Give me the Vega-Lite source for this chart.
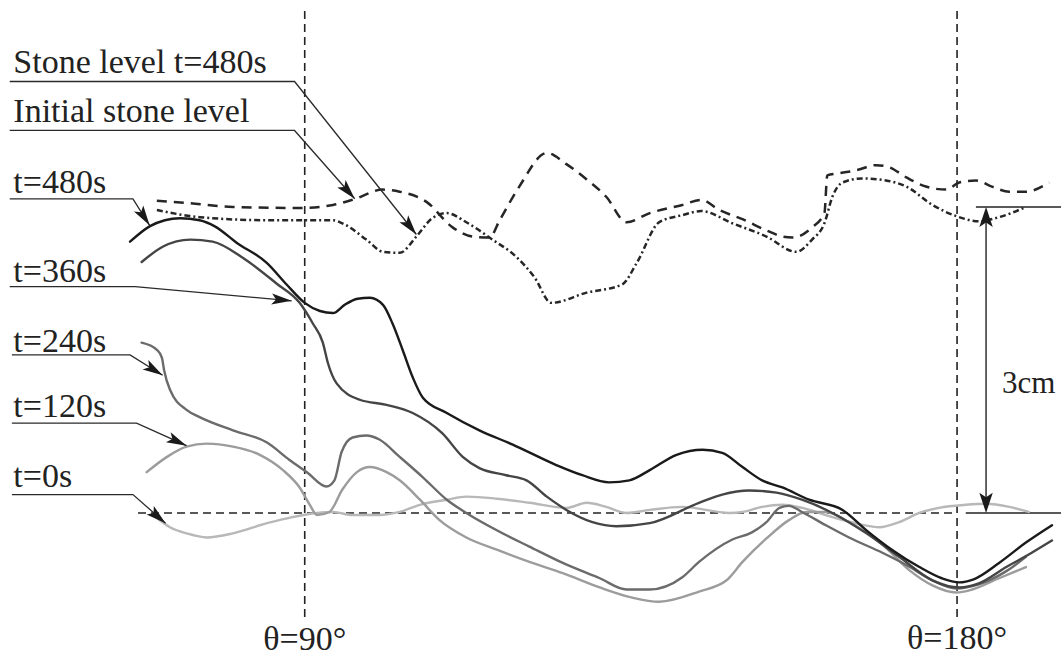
{
  "$schema": "https://vega.github.io/schema/vega-lite/v6.json",
  "width": 1062,
  "height": 657,
  "padding": 0,
  "autosize": {"type": "fit", "contains": "padding"},
  "background": "white",
  "config": {"view": {"stroke": null}},
  "datasets": {
    "profiles": [
      {"series": "t=0s", "theta": 69.6, "depth": -0.05}, {"series": "t=0s", "theta": 71.4, "depth": -0.14}, {"series": "t=0s", "theta": 73.7, "depth": -0.2}, {"series": "t=0s", "theta": 76.5, "depth": -0.24}, {"series": "t=0s", "theta": 80.1, "depth": -0.2}, {"series": "t=0s", "theta": 84.8, "depth": -0.1}, {"series": "t=0s", "theta": 88.3, "depth": -0.04}, {"series": "t=0s", "theta": 91.7, "depth": 0}, {"series": "t=0s", "theta": 93.9, "depth": 0.01}, {"series": "t=0s", "theta": 96.6, "depth": -0.02}, {"series": "t=0s", "theta": 100.3, "depth": -0.02}, {"series": "t=0s", "theta": 103.1, "depth": 0.01}, {"series": "t=0s", "theta": 105.9, "depth": 0.08}, {"series": "t=0s", "theta": 109.6, "depth": 0.13}, {"series": "t=0s", "theta": 112.3, "depth": 0.16}, {"series": "t=0s", "theta": 116.5, "depth": 0.14}, {"series": "t=0s", "theta": 121.0, "depth": 0.1}, {"series": "t=0s", "theta": 126.1, "depth": 0.05}, {"series": "t=0s", "theta": 128.9, "depth": 0.1}, {"series": "t=0s", "theta": 131.6, "depth": 0.06}, {"series": "t=0s", "theta": 134.4, "depth": 0}, {"series": "t=0s", "theta": 137.6, "depth": 0.03}, {"series": "t=0s", "theta": 142.1, "depth": 0.06}, {"series": "t=0s", "theta": 148.6, "depth": 0}, {"series": "t=0s", "theta": 150.4, "depth": 0.01}, {"series": "t=0s", "theta": 153.1, "depth": 0.06}, {"series": "t=0s", "theta": 155.9, "depth": 0.08}, {"series": "t=0s", "theta": 158.6, "depth": 0.05}, {"series": "t=0s", "theta": 162.8, "depth": -0.04}, {"series": "t=0s", "theta": 166.5, "depth": -0.11}, {"series": "t=0s", "theta": 169.3, "depth": -0.14}, {"series": "t=0s", "theta": 172.0, "depth": -0.09}, {"series": "t=0s", "theta": 174.8, "depth": 0}, {"series": "t=0s", "theta": 177.5, "depth": 0.05}, {"series": "t=0s", "theta": 181.2, "depth": 0.08}, {"series": "t=0s", "theta": 184.0, "depth": 0.09}, {"series": "t=0s", "theta": 187.2, "depth": 0.06}, {"series": "t=0s", "theta": 189.9, "depth": 0.01},

      {"series": "t=120s", "theta": 68.2, "depth": 0.4}, {"series": "t=120s", "theta": 71.0, "depth": 0.55}, {"series": "t=120s", "theta": 73.7, "depth": 0.65}, {"series": "t=120s", "theta": 76.5, "depth": 0.68}, {"series": "t=120s", "theta": 80.1, "depth": 0.65}, {"series": "t=120s", "theta": 83.8, "depth": 0.57}, {"series": "t=120s", "theta": 87.0, "depth": 0.42}, {"series": "t=120s", "theta": 89.3, "depth": 0.25}, {"series": "t=120s", "theta": 90.7, "depth": 0.08}, {"series": "t=120s", "theta": 91.7, "depth": -0.02}, {"series": "t=120s", "theta": 93.4, "depth": 0.01}, {"series": "t=120s", "theta": 95.2, "depth": 0.23}, {"series": "t=120s", "theta": 97.2, "depth": 0.4}, {"series": "t=120s", "theta": 99.0, "depth": 0.45}, {"series": "t=120s", "theta": 101.3, "depth": 0.4}, {"series": "t=120s", "theta": 103.1, "depth": 0.32}, {"series": "t=120s", "theta": 105.9, "depth": 0.13}, {"series": "t=120s", "theta": 108.6, "depth": -0.07}, {"series": "t=120s", "theta": 112.3, "depth": -0.24}, {"series": "t=120s", "theta": 116.5, "depth": -0.36}, {"series": "t=120s", "theta": 121.0, "depth": -0.48}, {"series": "t=120s", "theta": 125.6, "depth": -0.59}, {"series": "t=120s", "theta": 130.7, "depth": -0.73}, {"series": "t=120s", "theta": 135.2, "depth": -0.83}, {"series": "t=120s", "theta": 138.9, "depth": -0.87}, {"series": "t=120s", "theta": 144.4, "depth": -0.77}, {"series": "t=120s", "theta": 148.2, "depth": -0.66}, {"series": "t=120s", "theta": 150.4, "depth": -0.48}, {"series": "t=120s", "theta": 153.7, "depth": -0.25}, {"series": "t=120s", "theta": 156.8, "depth": -0.07}, {"series": "t=120s", "theta": 159.2, "depth": 0.01}, {"series": "t=120s", "theta": 161.9, "depth": 0.01}, {"series": "t=120s", "theta": 165.1, "depth": -0.09}, {"series": "t=120s", "theta": 169.7, "depth": -0.31}, {"series": "t=120s", "theta": 173.4, "depth": -0.56}, {"series": "t=120s", "theta": 176.6, "depth": -0.71}, {"series": "t=120s", "theta": 179.9, "depth": -0.78}, {"series": "t=120s", "theta": 182.1, "depth": -0.75}, {"series": "t=120s", "theta": 185.8, "depth": -0.64}, {"series": "t=120s", "theta": 189.5, "depth": -0.53},

      {"series": "t=240s", "theta": 67.5, "depth": 1.67}, {"series": "t=240s", "theta": 69.6, "depth": 1.6}, {"series": "t=240s", "theta": 70.3, "depth": 1.52}, {"series": "t=240s", "theta": 70.6, "depth": 1.4}, {"series": "t=240s", "theta": 71.4, "depth": 1.21}, {"series": "t=240s", "theta": 73.7, "depth": 1.01}, {"series": "t=240s", "theta": 75.5, "depth": 0.94}, {"series": "t=240s", "theta": 80.1, "depth": 0.81}, {"series": "t=240s", "theta": 84.8, "depth": 0.69}, {"series": "t=240s", "theta": 87.9, "depth": 0.52}, {"series": "t=240s", "theta": 90.3, "depth": 0.4}, {"series": "t=240s", "theta": 93.0, "depth": 0.26}, {"series": "t=240s", "theta": 94.1, "depth": 0.32}, {"series": "t=240s", "theta": 95.1, "depth": 0.6}, {"series": "t=240s", "theta": 96.6, "depth": 0.74}, {"series": "t=240s", "theta": 98.5, "depth": 0.76}, {"series": "t=240s", "theta": 100.3, "depth": 0.72}, {"series": "t=240s", "theta": 103.1, "depth": 0.55}, {"series": "t=240s", "theta": 106.3, "depth": 0.35}, {"series": "t=240s", "theta": 109.6, "depth": 0.13}, {"series": "t=240s", "theta": 112.3, "depth": 0}, {"series": "t=240s", "theta": 116.5, "depth": -0.17}, {"series": "t=240s", "theta": 121.0, "depth": -0.33}, {"series": "t=240s", "theta": 125.6, "depth": -0.49}, {"series": "t=240s", "theta": 130.7, "depth": -0.64}, {"series": "t=240s", "theta": 134.4, "depth": -0.75}, {"series": "t=240s", "theta": 137.6, "depth": -0.75}, {"series": "t=240s", "theta": 142.1, "depth": -0.63}, {"series": "t=240s", "theta": 144.4, "depth": -0.48}, {"series": "t=240s", "theta": 149.0, "depth": -0.26}, {"series": "t=240s", "theta": 151.7, "depth": -0.19}, {"series": "t=240s", "theta": 153.7, "depth": -0.09}, {"series": "t=240s", "theta": 155.5, "depth": 0.05}, {"series": "t=240s", "theta": 156.8, "depth": 0.07}, {"series": "t=240s", "theta": 158.6, "depth": 0.01}, {"series": "t=240s", "theta": 161.9, "depth": -0.12}, {"series": "t=240s", "theta": 165.1, "depth": -0.24}, {"series": "t=240s", "theta": 169.7, "depth": -0.39}, {"series": "t=240s", "theta": 173.0, "depth": -0.51}, {"series": "t=240s", "theta": 176.6, "depth": -0.66}, {"series": "t=240s", "theta": 179.9, "depth": -0.74}, {"series": "t=240s", "theta": 183.0, "depth": -0.7}, {"series": "t=240s", "theta": 186.8, "depth": -0.57}, {"series": "t=240s", "theta": 189.5, "depth": -0.43},

      {"series": "t=360s", "theta": 67.5, "depth": 2.46}, {"series": "t=360s", "theta": 70.4, "depth": 2.61}, {"series": "t=360s", "theta": 74.2, "depth": 2.68}, {"series": "t=360s", "theta": 77.3, "depth": 2.66}, {"series": "t=360s", "theta": 81.5, "depth": 2.5}, {"series": "t=360s", "theta": 86.1, "depth": 2.25}, {"series": "t=360s", "theta": 89.3, "depth": 2.06}, {"series": "t=360s", "theta": 91.1, "depth": 1.86}, {"series": "t=360s", "theta": 92.5, "depth": 1.67}, {"series": "t=360s", "theta": 93.2, "depth": 1.47}, {"series": "t=360s", "theta": 94.4, "depth": 1.27}, {"series": "t=360s", "theta": 97.6, "depth": 1.11}, {"series": "t=360s", "theta": 101.3, "depth": 1.06}, {"series": "t=360s", "theta": 104.9, "depth": 0.98}, {"series": "t=360s", "theta": 109.0, "depth": 0.78}, {"series": "t=360s", "theta": 111.8, "depth": 0.55}, {"series": "t=360s", "theta": 114.1, "depth": 0.44}, {"series": "t=360s", "theta": 117.8, "depth": 0.37}, {"series": "t=360s", "theta": 120.6, "depth": 0.32}, {"series": "t=360s", "theta": 123.4, "depth": 0.16}, {"series": "t=360s", "theta": 126.1, "depth": 0.03}, {"series": "t=360s", "theta": 129.7, "depth": -0.09}, {"series": "t=360s", "theta": 133.0, "depth": -0.13}, {"series": "t=360s", "theta": 137.6, "depth": -0.1}, {"series": "t=360s", "theta": 144.4, "depth": 0.1}, {"series": "t=360s", "theta": 147.6, "depth": 0.18}, {"series": "t=360s", "theta": 151.3, "depth": 0.22}, {"series": "t=360s", "theta": 155.1, "depth": 0.2}, {"series": "t=360s", "theta": 158.6, "depth": 0.13}, {"series": "t=360s", "theta": 162.8, "depth": 0}, {"series": "t=360s", "theta": 167.5, "depth": -0.2}, {"series": "t=360s", "theta": 172.0, "depth": -0.43}, {"series": "t=360s", "theta": 176.6, "depth": -0.66}, {"series": "t=360s", "theta": 180.3, "depth": -0.73}, {"series": "t=360s", "theta": 183.0, "depth": -0.69}, {"series": "t=360s", "theta": 186.8, "depth": -0.53}, {"series": "t=360s", "theta": 190.3, "depth": -0.39}, {"series": "t=360s", "theta": 193.1, "depth": -0.27},

      {"series": "t=480s", "theta": 65.9, "depth": 2.66}, {"series": "t=480s", "theta": 68.6, "depth": 2.81}, {"series": "t=480s", "theta": 70.7, "depth": 2.87}, {"series": "t=480s", "theta": 72.8, "depth": 2.89}, {"series": "t=480s", "theta": 75.5, "depth": 2.87}, {"series": "t=480s", "theta": 77.6, "depth": 2.81}, {"series": "t=480s", "theta": 80.6, "depth": 2.65}, {"series": "t=480s", "theta": 84.8, "depth": 2.45}, {"series": "t=480s", "theta": 87.5, "depth": 2.24}, {"series": "t=480s", "theta": 90.0, "depth": 2.06}, {"series": "t=480s", "theta": 92.1, "depth": 1.98}, {"series": "t=480s", "theta": 93.9, "depth": 1.96}, {"series": "t=480s", "theta": 95.5, "depth": 2.04}, {"series": "t=480s", "theta": 97.3, "depth": 2.1}, {"series": "t=480s", "theta": 99.0, "depth": 2.11}, {"series": "t=480s", "theta": 100.8, "depth": 2.04}, {"series": "t=480s", "theta": 102.1, "depth": 1.86}, {"series": "t=480s", "theta": 103.5, "depth": 1.6}, {"series": "t=480s", "theta": 104.9, "depth": 1.33}, {"series": "t=480s", "theta": 106.3, "depth": 1.13}, {"series": "t=480s", "theta": 109.6, "depth": 0.98}, {"series": "t=480s", "theta": 114.1, "depth": 0.81}, {"series": "t=480s", "theta": 118.7, "depth": 0.67}, {"series": "t=480s", "theta": 124.7, "depth": 0.47}, {"series": "t=480s", "theta": 128.3, "depth": 0.37}, {"series": "t=480s", "theta": 132.0, "depth": 0.3}, {"series": "t=480s", "theta": 134.8, "depth": 0.32}, {"series": "t=480s", "theta": 137.6, "depth": 0.42}, {"series": "t=480s", "theta": 141.3, "depth": 0.57}, {"series": "t=480s", "theta": 144.9, "depth": 0.62}, {"series": "t=480s", "theta": 147.6, "depth": 0.59}, {"series": "t=480s", "theta": 150.4, "depth": 0.45}, {"series": "t=480s", "theta": 153.1, "depth": 0.32}, {"series": "t=480s", "theta": 155.9, "depth": 0.25}, {"series": "t=480s", "theta": 159.6, "depth": 0.13}, {"series": "t=480s", "theta": 164.2, "depth": 0.03}, {"series": "t=480s", "theta": 167.5, "depth": -0.17}, {"series": "t=480s", "theta": 171.0, "depth": -0.36}, {"series": "t=480s", "theta": 174.8, "depth": -0.53}, {"series": "t=480s", "theta": 177.9, "depth": -0.64}, {"series": "t=480s", "theta": 180.3, "depth": -0.68}, {"series": "t=480s", "theta": 182.3, "depth": -0.65}, {"series": "t=480s", "theta": 185.8, "depth": -0.49}, {"series": "t=480s", "theta": 189.5, "depth": -0.29}, {"series": "t=480s", "theta": 193.1, "depth": -0.12}
    ],
    "stone": [
      {"level": "Initial stone level", "theta": 69.6, "depth": 3.06}, {"level": "Initial stone level", "theta": 73.7, "depth": 3.04}, {"level": "Initial stone level", "theta": 80.1, "depth": 3.0}, {"level": "Initial stone level", "theta": 89.3, "depth": 2.99}, {"level": "Initial stone level", "theta": 93.9, "depth": 3.02}, {"level": "Initial stone level", "theta": 96.6, "depth": 3.07}, {"level": "Initial stone level", "theta": 100.8, "depth": 3.17}, {"level": "Initial stone level", "theta": 103.1, "depth": 3.15}, {"level": "Initial stone level", "theta": 106.8, "depth": 3.05}, {"level": "Initial stone level", "theta": 110.4, "depth": 2.8}, {"level": "Initial stone level", "theta": 113.2, "depth": 2.71}, {"level": "Initial stone level", "theta": 115.5, "depth": 2.7}, {"level": "Initial stone level", "theta": 116.9, "depth": 2.87}, {"level": "Initial stone level", "theta": 119.6, "depth": 3.2}, {"level": "Initial stone level", "theta": 123.4, "depth": 3.53}, {"level": "Initial stone level", "theta": 126.1, "depth": 3.42}, {"level": "Initial stone level", "theta": 128.9, "depth": 3.27}, {"level": "Initial stone level", "theta": 131.6, "depth": 3.1}, {"level": "Initial stone level", "theta": 134.4, "depth": 2.85}, {"level": "Initial stone level", "theta": 137.6, "depth": 2.94}, {"level": "Initial stone level", "theta": 142.1, "depth": 3.02}, {"level": "Initial stone level", "theta": 144.7, "depth": 3.07}, {"level": "Initial stone level", "theta": 147.2, "depth": 2.97}, {"level": "Initial stone level", "theta": 150.4, "depth": 2.88}, {"level": "Initial stone level", "theta": 153.7, "depth": 2.77}, {"level": "Initial stone level", "theta": 155.9, "depth": 2.71}, {"level": "Initial stone level", "theta": 157.3, "depth": 2.7}, {"level": "Initial stone level", "theta": 160.0, "depth": 2.8}, {"level": "Initial stone level", "theta": 161.7, "depth": 2.94}, {"level": "Initial stone level", "theta": 162.1, "depth": 3.31}, {"level": "Initial stone level", "theta": 163.7, "depth": 3.33}, {"level": "Initial stone level", "theta": 166.1, "depth": 3.36}, {"level": "Initial stone level", "theta": 168.8, "depth": 3.41}, {"level": "Initial stone level", "theta": 170.6, "depth": 3.39}, {"level": "Initial stone level", "theta": 173.0, "depth": 3.29}, {"level": "Initial stone level", "theta": 175.7, "depth": 3.2}, {"level": "Initial stone level", "theta": 178.5, "depth": 3.17}, {"level": "Initial stone level", "theta": 180.3, "depth": 3.24}, {"level": "Initial stone level", "theta": 182.6, "depth": 3.26}, {"level": "Initial stone level", "theta": 184.8, "depth": 3.2}, {"level": "Initial stone level", "theta": 187.2, "depth": 3.15}, {"level": "Initial stone level", "theta": 189.5, "depth": 3.15}, {"level": "Initial stone level", "theta": 192.7, "depth": 3.24},

      {"level": "Stone level t=480s", "theta": 69.6, "depth": 2.97}, {"level": "Stone level t=480s", "theta": 75.5, "depth": 2.9}, {"level": "Stone level t=480s", "theta": 84.8, "depth": 2.87}, {"level": "Stone level t=480s", "theta": 93.9, "depth": 2.87}, {"level": "Stone level t=480s", "theta": 95.2, "depth": 2.84}, {"level": "Stone level t=480s", "theta": 98.5, "depth": 2.68}, {"level": "Stone level t=480s", "theta": 100.8, "depth": 2.56}, {"level": "Stone level t=480s", "theta": 103.1, "depth": 2.55}, {"level": "Stone level t=480s", "theta": 105.4, "depth": 2.71}, {"level": "Stone level t=480s", "theta": 107.6, "depth": 2.89}, {"level": "Stone level t=480s", "theta": 109.6, "depth": 2.94}, {"level": "Stone level t=480s", "theta": 112.3, "depth": 2.85}, {"level": "Stone level t=480s", "theta": 115.9, "depth": 2.68}, {"level": "Stone level t=480s", "theta": 119.2, "depth": 2.51}, {"level": "Stone level t=480s", "theta": 121.7, "depth": 2.31}, {"level": "Stone level t=480s", "theta": 124.0, "depth": 2.06}, {"level": "Stone level t=480s", "theta": 128.9, "depth": 2.16}, {"level": "Stone level t=480s", "theta": 133.8, "depth": 2.24}, {"level": "Stone level t=480s", "theta": 135.8, "depth": 2.45}, {"level": "Stone level t=480s", "theta": 138.9, "depth": 2.85}, {"level": "Stone level t=480s", "theta": 142.1, "depth": 2.92}, {"level": "Stone level t=480s", "theta": 144.7, "depth": 2.96}, {"level": "Stone level t=480s", "theta": 149.0, "depth": 2.84}, {"level": "Stone level t=480s", "theta": 153.7, "depth": 2.71}, {"level": "Stone level t=480s", "theta": 157.8, "depth": 2.56}, {"level": "Stone level t=480s", "theta": 160.0, "depth": 2.68}, {"level": "Stone level t=480s", "theta": 161.7, "depth": 2.84}, {"level": "Stone level t=480s", "theta": 162.8, "depth": 3.1}, {"level": "Stone level t=480s", "theta": 164.2, "depth": 3.24}, {"level": "Stone level t=480s", "theta": 166.9, "depth": 3.28}, {"level": "Stone level t=480s", "theta": 170.2, "depth": 3.26}, {"level": "Stone level t=480s", "theta": 173.0, "depth": 3.2}, {"level": "Stone level t=480s", "theta": 176.6, "depth": 3.02}, {"level": "Stone level t=480s", "theta": 179.9, "depth": 2.91}, {"level": "Stone level t=480s", "theta": 183.0, "depth": 2.86}, {"level": "Stone level t=480s", "theta": 185.8, "depth": 2.9}, {"level": "Stone level t=480s", "theta": 189.5, "depth": 3.0}
    ],
    "guides": [
      {"kind": "dashed", "theta": 90, "depth": -1.02, "theta2": 90, "depth2": 4.93},
      {"kind": "dashed", "theta": 180, "depth": -1.02, "theta2": 180, "depth2": 4.93},
      {"kind": "dashed", "theta": 67.0, "depth": 0, "theta2": 180, "depth2": 0},
      {"kind": "solid", "theta": 181.2, "depth": 0, "theta2": 194.34, "depth2": 0},
      {"kind": "solid", "theta": 182.6, "depth": 3, "theta2": 194.34, "depth2": 3},
      {"kind": "solid", "theta": 184.0, "depth": 0.1, "theta2": 184.0, "depth2": 2.9}
    ],
    "leaders": [
      {"label": "Stone level t=480s", "step": 1, "theta": 49.3, "depth": 4.23}, {"label": "Stone level t=480s", "step": 2, "theta": 88.6, "depth": 4.23}, {"label": "Stone level t=480s", "step": 3, "theta": 105.4, "depth": 2.73},
      {"label": "Initial stone level", "step": 1, "theta": 49.3, "depth": 3.75}, {"label": "Initial stone level", "step": 2, "theta": 88.6, "depth": 3.75}, {"label": "Initial stone level", "step": 3, "theta": 96.9, "depth": 3.08},
      {"label": "t=480s", "step": 1, "theta": 49.3, "depth": 3.08}, {"label": "t=480s", "step": 2, "theta": 66.3, "depth": 3.08}, {"label": "t=480s", "step": 3, "theta": 68.6, "depth": 2.82},
      {"label": "t=360s", "step": 1, "theta": 49.3, "depth": 2.22}, {"label": "t=360s", "step": 2, "theta": 66.6, "depth": 2.22}, {"label": "t=360s", "step": 3, "theta": 88.2, "depth": 2.08},
      {"label": "t=240s", "step": 1, "theta": 49.6, "depth": 1.55}, {"label": "t=240s", "step": 2, "theta": 65.9, "depth": 1.55}, {"label": "t=240s", "step": 3, "theta": 70.4, "depth": 1.35},
      {"label": "t=120s", "step": 1, "theta": 49.6, "depth": 0.88}, {"label": "t=120s", "step": 2, "theta": 66.8, "depth": 0.88}, {"label": "t=120s", "step": 3, "theta": 73.7, "depth": 0.66},
      {"label": "t=0s", "step": 1, "theta": 49.6, "depth": 0.18}, {"label": "t=0s", "step": 2, "theta": 66.3, "depth": 0.18}, {"label": "t=0s", "step": 3, "theta": 70.8, "depth": -0.1}
    ],
    "tips": [
      {"arrow": "Stone level t=480s", "theta": 105.4, "depth": 2.73},
      {"arrow": "Initial stone level", "theta": 96.9, "depth": 3.08},
      {"arrow": "t=480s", "theta": 68.6, "depth": 2.82},
      {"arrow": "t=360s", "theta": 88.2, "depth": 2.08},
      {"arrow": "t=240s", "theta": 70.4, "depth": 1.35},
      {"arrow": "t=120s", "theta": 73.7, "depth": 0.66},
      {"arrow": "t=0s", "theta": 70.8, "depth": -0.1},
      {"arrow": "3cm top", "theta": 184.0, "depth": 3},
      {"arrow": "3cm bottom", "theta": 184.0, "depth": 0}
    ],
    "labels": [
      {"label": "Stone level t=480s", "theta": 49.8, "depth": 4.31},
      {"label": "Initial stone level", "theta": 49.8, "depth": 3.83},
      {"label": "t=480s", "theta": 49.8, "depth": 3.14},
      {"label": "t=360s", "theta": 49.8, "depth": 2.26},
      {"label": "t=240s", "theta": 49.8, "depth": 1.58},
      {"label": "t=120s", "theta": 49.8, "depth": 0.94},
      {"label": "t=0s", "theta": 49.8, "depth": 0.25}
    ],
    "angles": [
      {"label": "θ=90°", "theta": 90, "depth": -1.34},
      {"label": "θ=180°", "theta": 180, "depth": -1.33}
    ],
    "scale_note": [
      {"label": "3cm", "theta": 186.2, "depth": 1.18}
    ]
  },
  "encoding": {
    "x": {"field": "theta", "type": "quantitative", "scale": {"domain": [47.96, 194.34], "nice": false, "zero": false}, "axis": null},
    "y": {"field": "depth", "type": "quantitative", "scale": {"domain": [-1.412, 5.029], "nice": false, "zero": false}, "axis": null}
  },
  "layer": [
    {
      "data": {"name": "guides"},
      "transform": [{"filter": "datum.kind == 'dashed'"}],
      "mark": {"type": "rule", "color": "#222222", "strokeWidth": 1.6, "strokeDash": [8, 5]},
      "encoding": {"x2": {"field": "theta2"}, "y2": {"field": "depth2"}}
    },
    {
      "data": {"name": "guides"},
      "transform": [{"filter": "datum.kind == 'solid'"}],
      "mark": {"type": "rule", "color": "#222222", "strokeWidth": 1.4},
      "encoding": {"x2": {"field": "theta2"}, "y2": {"field": "depth2"}}
    },
    {
      "data": {"name": "stone"},
      "mark": {"type": "line", "interpolate": "monotone", "strokeWidth": 2.5, "color": "#262626"},
      "encoding": {
        "detail": {"field": "level"},
        "strokeDash": {"field": "level", "type": "nominal", "scale": {"domain": ["Initial stone level", "Stone level t=480s"], "range": [[10, 7], [6, 3, 2, 3]]}, "legend": null}
      }
    },
    {
      "data": {"name": "profiles"},
      "mark": {"type": "line", "interpolate": "monotone", "strokeWidth": 2.4, "strokeCap": "round"},
      "encoding": {
        "color": {"field": "series", "type": "nominal", "scale": {"domain": ["t=0s", "t=120s", "t=240s", "t=360s", "t=480s"], "range": ["#b8b8b8", "#9c9c9c", "#6b6b6b", "#454545", "#1a1a1a"]}, "legend": null}
      }
    },
    {
      "data": {"name": "leaders"},
      "mark": {"type": "line", "color": "#2a2a2a", "strokeWidth": 1.3},
      "encoding": {"detail": {"field": "label"}, "order": {"field": "step", "type": "quantitative"}}
    },
    {
      "data": {"name": "tips"},
      "transform": [{"filter": "datum.arrow == 'Stone level t=480s'"}],
      "mark": {"type": "point", "shape": "M0,0L0.5,1.8L0,1.4L-0.5,1.8Z", "filled": true, "color": "#1a1a1a", "opacity": 1, "strokeWidth": 0, "size": 500, "angle": 141.4},
      "encoding": {}
    },
    {
      "data": {"name": "tips"},
      "transform": [{"filter": "datum.arrow == 'Initial stone level'"}],
      "mark": {"type": "point", "shape": "M0,0L0.5,1.8L0,1.4L-0.5,1.8Z", "filled": true, "color": "#1a1a1a", "opacity": 1, "strokeWidth": 0, "size": 500, "angle": 138.6},
      "encoding": {}
    },
    {
      "data": {"name": "tips"},
      "transform": [{"filter": "datum.arrow == 't=480s'"}],
      "mark": {"type": "point", "shape": "M0,0L0.5,1.8L0,1.4L-0.5,1.8Z", "filled": true, "color": "#1a1a1a", "opacity": 1, "strokeWidth": 0, "size": 500, "angle": 146.8},
      "encoding": {}
    },
    {
      "data": {"name": "tips"},
      "transform": [{"filter": "datum.arrow == 't=360s'"}],
      "mark": {"type": "point", "shape": "M0,0L0.5,1.8L0,1.4L-0.5,1.8Z", "filled": true, "color": "#1a1a1a", "opacity": 1, "strokeWidth": 0, "size": 500, "angle": 95.1},
      "encoding": {}
    },
    {
      "data": {"name": "tips"},
      "transform": [{"filter": "datum.arrow == 't=240s'"}],
      "mark": {"type": "point", "shape": "M0,0L0.5,1.8L0,1.4L-0.5,1.8Z", "filled": true, "color": "#1a1a1a", "opacity": 1, "strokeWidth": 0, "size": 500, "angle": 121.2},
      "encoding": {}
    },
    {
      "data": {"name": "tips"},
      "transform": [{"filter": "datum.arrow == 't=120s'"}],
      "mark": {"type": "point", "shape": "M0,0L0.5,1.8L0,1.4L-0.5,1.8Z", "filled": true, "color": "#1a1a1a", "opacity": 1, "strokeWidth": 0, "size": 500, "angle": 114.7},
      "encoding": {}
    },
    {
      "data": {"name": "tips"},
      "transform": [{"filter": "datum.arrow == 't=0s'"}],
      "mark": {"type": "point", "shape": "M0,0L0.5,1.8L0,1.4L-0.5,1.8Z", "filled": true, "color": "#1a1a1a", "opacity": 1, "strokeWidth": 0, "size": 500, "angle": 130.3},
      "encoding": {}
    },
    {
      "data": {"name": "tips"},
      "transform": [{"filter": "datum.arrow == '3cm top'"}],
      "mark": {"type": "point", "shape": "M0,0L0.6,1.8L0,1.4L-0.6,1.8Z", "filled": true, "color": "#1a1a1a", "opacity": 1, "strokeWidth": 0, "size": 500, "angle": 0},
      "encoding": {}
    },
    {
      "data": {"name": "tips"},
      "transform": [{"filter": "datum.arrow == '3cm bottom'"}],
      "mark": {"type": "point", "shape": "M0,0L0.6,1.8L0,1.4L-0.6,1.8Z", "filled": true, "color": "#1a1a1a", "opacity": 1, "strokeWidth": 0, "size": 500, "angle": 180},
      "encoding": {}
    },
    {
      "data": {"name": "labels"},
      "mark": {"type": "text", "align": "left", "baseline": "alphabetic", "font": "Liberation Serif", "fontSize": 34, "color": "#222222"},
      "encoding": {"text": {"field": "label"}}
    },
    {
      "data": {"name": "angles"},
      "mark": {"type": "text", "align": "center", "baseline": "alphabetic", "font": "Liberation Serif", "fontSize": 34, "color": "#222222"},
      "encoding": {"text": {"field": "label"}}
    },
    {
      "data": {"name": "scale_note"},
      "mark": {"type": "text", "align": "left", "baseline": "alphabetic", "font": "Liberation Serif", "fontSize": 31, "color": "#222222"},
      "encoding": {"text": {"field": "label"}}
    }
  ]
}
